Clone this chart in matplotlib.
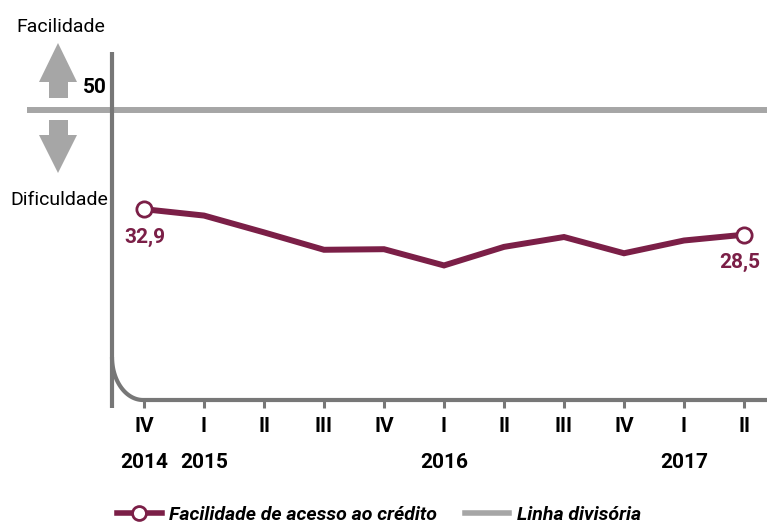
import numpy as np
import matplotlib
matplotlib.use("Agg")
import matplotlib.pyplot as plt
from matplotlib.lines import Line2D
from matplotlib.patches import Polygon
import matplotlib.transforms as mtransforms

plt.rcParams['font.family'] = ['Roboto', 'DejaVu Sans']

# data
quarters = ["IV", "I", "II", "III", "IV", "I", "II", "III", "IV", "I", "II"]
years = ["2014", "2015", "", "", "", "2016", "", "", "", "2017", ""]
facilidade = [32.9, 31.8, 28.9, 25.9, 26.0, 23.2, 26.4, 28.1, 25.3, 27.5, 28.5]
linha_divisoria = 50
first_label = "32,9"
last_label = "28,5"

MAROON = "#7b1f47"
LIGHT_GRAY = "#a6a6a6"
DARK_GRAY = "#777777"
FS = 14
FS_BOLD = 15

W, H = 767, 525
fig = plt.figure(figsize=(W / 100, H / 100), dpi=100)


def fx(x):
    return x / W


def fy(y):
    return 1 - y / H


# axes box in pixels: left 112, right 767, top 52, bottom 400
ax = fig.add_axes([fx(112), fy(400), fx(767 - 112), (400 - 52) / H])
x = np.arange(len(facilidade))
ax.set_xlim(-32 / 60, -32 / 60 + 655 / 60)
ax.set_ylim(0, 60)
for s in ax.spines.values():
    s.set_visible(False)
ax.set_yticks([])

# dividing line (extends left of the axis)
ax.axhline(linha_divisoria, xmin=-85 / 655, xmax=1, color=LIGHT_GRAY,
           lw=4.3, clip_on=False, zorder=1, solid_capstyle='butt')

# axis frame with rounded corner
t = np.linspace(0, np.pi / 2, 40)
curve_x = 143 - 31 * np.cos(t)
curve_y = 357 + 43 * np.sin(t)
frame_x = np.concatenate([[112], curve_x, [W]])
frame_y = np.concatenate([[52], curve_y, [400]])
fig.add_artist(Line2D(fx(frame_x), fy(frame_y), color=DARK_GRAY, lw=3,
                      transform=fig.transFigure, solid_capstyle='butt'))
fig.add_artist(Line2D([fx(112), fx(112)], [fy(357), fy(408)], color=DARK_GRAY,
                      lw=3, transform=fig.transFigure, solid_capstyle='butt'))

# series
ax.plot(x, facilidade, color=MAROON, lw=4.3, solid_joinstyle='miter', zorder=3)
ax.plot([x[0], x[-1]], [facilidade[0], facilidade[-1]], ls='none', marker='o',
        ms=11, mfc='white', mec=MAROON, mew=2, zorder=4)
ax.annotate(first_label, (x[0], facilidade[0]), xytext=(1, -20),
            textcoords='offset points', ha='center', va='center',
            fontsize=FS_BOLD, fontweight='bold', color=MAROON)
ax.annotate(last_label, (x[-1], facilidade[-1]), xytext=(-3, -20),
            textcoords='offset points', ha='center', va='center',
            fontsize=FS_BOLD, fontweight='bold', color=MAROON)

# x ticks
ax.set_xticks(x)
ax.set_xticklabels(quarters, fontsize=FS_BOLD, fontweight='bold')
ax.tick_params(axis='x', length=5.5, width=2.2, color=DARK_GRAY, pad=7,
               direction='out')
trans = mtransforms.blended_transform_factory(ax.transData, fig.transFigure)
for xi, yr in zip(x, years):
    if yr:
        ax.text(xi, fy(462), yr, transform=trans, ha='center', va='center',
                fontsize=FS_BOLD, fontweight='bold')

# side labels and arrows
fig.text(fx(61), fy(27), "Facilidade", ha='center', va='center', fontsize=FS)
fig.text(fx(59), fy(200), "Dificuldade", ha='center', va='center', fontsize=FS)
fig.text(fx(95), fy(88), "50", ha='center', va='center', fontsize=FS_BOLD,
         fontweight='bold')
up = [(58, 43), (77, 82), (68, 82), (68, 98), (49, 98), (49, 82), (39, 82)]
down = [(58, 173), (77, 135), (68, 135), (68, 120), (49, 120), (49, 135), (39, 135)]
for pts in (up, down):
    fig.add_artist(Polygon([(fx(a), fy(b)) for a, b in pts], closed=True,
                           facecolor=LIGHT_GRAY, edgecolor='none',
                           transform=fig.transFigure))

# legend
handles = [
    Line2D([], [], color=MAROON, lw=4, marker='o', ms=10, mfc='white',
           mec=MAROON, mew=2),
    Line2D([], [], color=LIGHT_GRAY, lw=4),
]
fig.legend(handles, ["Facilidade de acesso ao crédito", "Linha divisória"],
           loc='center', bbox_to_anchor=(fx(379), fy(515)), ncol=2,
           frameon=False, handlelength=2.3, handletextpad=0.4,
           columnspacing=1.4, prop={'size': FS, 'weight': 'bold', 'style': 'italic'})

fig.savefig("out.png", dpi=100)
